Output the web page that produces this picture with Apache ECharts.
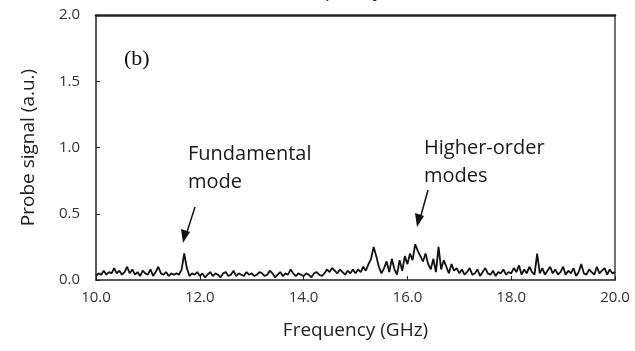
<!DOCTYPE html>
<html>
<head>
<meta charset="utf-8">
<script src="https://cdn.jsdelivr.net/npm/echarts@6/dist/echarts.min.js"></script>
<style>
  html, body { margin: 0; padding: 0; background: #fff; }
  #chart { width: 635px; height: 351px; }
</style>
</head>
<body>
<div id="chart"></div>
<script>
// frequency grid: 10.0 .. 20.0 GHz, step 0.05
const freqStart = 10.0;
const freqStep = 0.05;

// probe signal (a.u.), one value per 0.05 GHz
const signal = [
  // 10.0 - 11.45
  0.03, 0.05, 0.04, 0.07, 0.04, 0.06, 0.05, 0.09, 0.05, 0.07,
  0.04, 0.06, 0.10, 0.05, 0.08, 0.04, 0.06, 0.03, 0.07, 0.05,
  0.04, 0.08, 0.03, 0.06, 0.10, 0.05, 0.04, 0.06, 0.03, 0.05,
  // 11.5 - 11.95 (fundamental mode)
  0.04, 0.05, 0.04, 0.08, 0.20, 0.09, 0.03, 0.05, 0.04, 0.06,
  // 12.0 - 13.95
  0.03, 0.05, 0.02, 0.04, 0.06, 0.03, 0.05, 0.04, 0.02, 0.05,
  0.06, 0.03, 0.04, 0.07, 0.03, 0.05, 0.04, 0.03, 0.06, 0.04,
  0.05, 0.03, 0.04, 0.06, 0.05, 0.03, 0.04, 0.07, 0.05, 0.02,
  0.04, 0.06, 0.03, 0.05, 0.04, 0.08, 0.05, 0.03, 0.05, 0.04,
  // 14.0 - 14.95
  0.03, 0.05, 0.04, 0.02, 0.05, 0.06, 0.04, 0.03, 0.05, 0.08,
  0.06, 0.09, 0.07, 0.05, 0.08, 0.06, 0.04, 0.07, 0.05, 0.08,
  // 15.0 - 15.95
  0.05, 0.08, 0.06, 0.10, 0.07, 0.12, 0.16, 0.25, 0.18, 0.10,
  0.05, 0.09, 0.14, 0.06, 0.16, 0.08, 0.04, 0.15, 0.07, 0.18,
  // 16.0 - 16.95 (higher-order modes)
  0.12, 0.20, 0.15, 0.27, 0.22, 0.18, 0.14, 0.20, 0.12, 0.08,
  0.16, 0.06, 0.25, 0.08, 0.15, 0.10, 0.05, 0.12, 0.07, 0.09,
  // 17.0 - 17.95
  0.05, 0.08, 0.04, 0.06, 0.09, 0.04, 0.05, 0.08, 0.03, 0.06,
  0.09, 0.05, 0.04, 0.07, 0.03, 0.06, 0.05, 0.08, 0.04, 0.06,
  // 18.0 - 18.95
  0.05, 0.09, 0.06, 0.11, 0.04, 0.08, 0.05, 0.10, 0.06, 0.04,
  0.20, 0.05, 0.09, 0.04, 0.07, 0.10, 0.05, 0.08, 0.04, 0.06,
  // 19.0 - 20.0
  0.10, 0.04, 0.07, 0.05, 0.09, 0.03, 0.06, 0.12, 0.05, 0.04,
  0.08, 0.06, 0.04, 0.10, 0.05, 0.07, 0.09, 0.04, 0.08, 0.05,
  0.06
];

const xTicks = [10, 12, 14, 16, 18, 20];
const yTicks = [0, 0.5, 1.0, 1.5, 2.0];

const myChart = echarts.init(document.getElementById("chart"));

const points = signal.map((v, i) => [+(freqStart + i * freqStep).toFixed(2), v]);

const font = "'Open Sans', 'Noto Sans', sans-serif";

const option = {
  animation: false,
  grid: {
    left: 96,
    right: 20,
    top: 15,
    bottom: 71
  },
  xAxis: [
    {
      type: "value",
      min: xTicks[0],
      max: xTicks[xTicks.length - 1],
      interval: 2,
      name: "Frequency (GHz)",
      nameLocation: "middle",
      nameGap: 41,
      nameTextStyle: { fontFamily: font, fontSize: 19, color: "#222" },
      axisLine: { lineStyle: { color: "#222", width: 1.5 } },
      axisTick: { inside: true, length: 4, lineStyle: { color: "#222" } },
      axisLabel: {
        fontFamily: font, fontSize: 15, color: "#333", margin: 10,
        formatter: v => v.toFixed(1)
      },
      splitLine: { show: false }
    },
    {
      // top frame
      type: "value",
      position: "top",
      min: xTicks[0],
      max: xTicks[xTicks.length - 1],
      axisLine: { show: true, onZero: false, lineStyle: { color: "#222", width: 2.5 } },
      axisTick: { show: false },
      axisLabel: { show: false },
      splitLine: { show: false }
    }
  ],
  yAxis: [
    {
      type: "value",
      min: yTicks[0],
      max: yTicks[yTicks.length - 1],
      interval: 0.5,
      name: "Probe signal (a.u.)",
      nameLocation: "middle",
      nameGap: 58,
      nameTextStyle: { fontFamily: font, fontSize: 19, color: "#222" },
      axisLine: { show: true, lineStyle: { color: "#222", width: 1.5 } },
      axisTick: { show: true, inside: true, length: 4, lineStyle: { color: "#222" } },
      axisLabel: {
        fontFamily: font, fontSize: 15, color: "#333", margin: 16,
        formatter: v => v.toFixed(1)
      },
      splitLine: { show: false }
    },
    {
      // right frame
      type: "value",
      position: "right",
      min: yTicks[0],
      max: yTicks[yTicks.length - 1],
      axisLine: { show: true, onZero: false, lineStyle: { color: "#444", width: 1.5 } },
      axisTick: { show: false },
      axisLabel: { show: false },
      splitLine: { show: false }
    }
  ],
  series: [
    {
      type: "line",
      data: points,
      showSymbol: false,
      lineStyle: { color: "#111", width: 1.8 },
      z: 3
    }
  ],
  graphic: [
    { type: "text", left: 290, top: -18, style: { text: "Frequency", font: "19px " + font, fill: "#222" } },
    { type: "text", left: 124, top: 48, style: { text: "(b)", font: "22px 'Liberation Serif', 'DejaVu Serif', serif", fill: "#111" } },
    { type: "text", left: 188, top: 140, style: { text: "Fundamental\nmode", font: "20px " + font, fill: "#1a1a1a", lineHeight: 28 } },
    { type: "text", left: 424, top: 134, style: { text: "Higher-order\nmodes", font: "20px " + font, fill: "#1a1a1a", lineHeight: 28 } },
    { type: "line", shape: { x1: 195, y1: 207, x2: 186, y2: 235 }, style: { stroke: "#111", lineWidth: 1.5 } },
    { type: "polygon", shape: { points: [[183, 243], [181, 229], [190, 232]] }, style: { fill: "#111" } },
    { type: "line", shape: { x1: 428, y1: 190, x2: 420, y2: 219 }, style: { stroke: "#111", lineWidth: 1.5 } },
    { type: "polygon", shape: { points: [[417, 227], [415, 213], [424, 216]] }, style: { fill: "#111" } }
  ]
};

myChart.setOption(option);
</script>
</body>
</html>
